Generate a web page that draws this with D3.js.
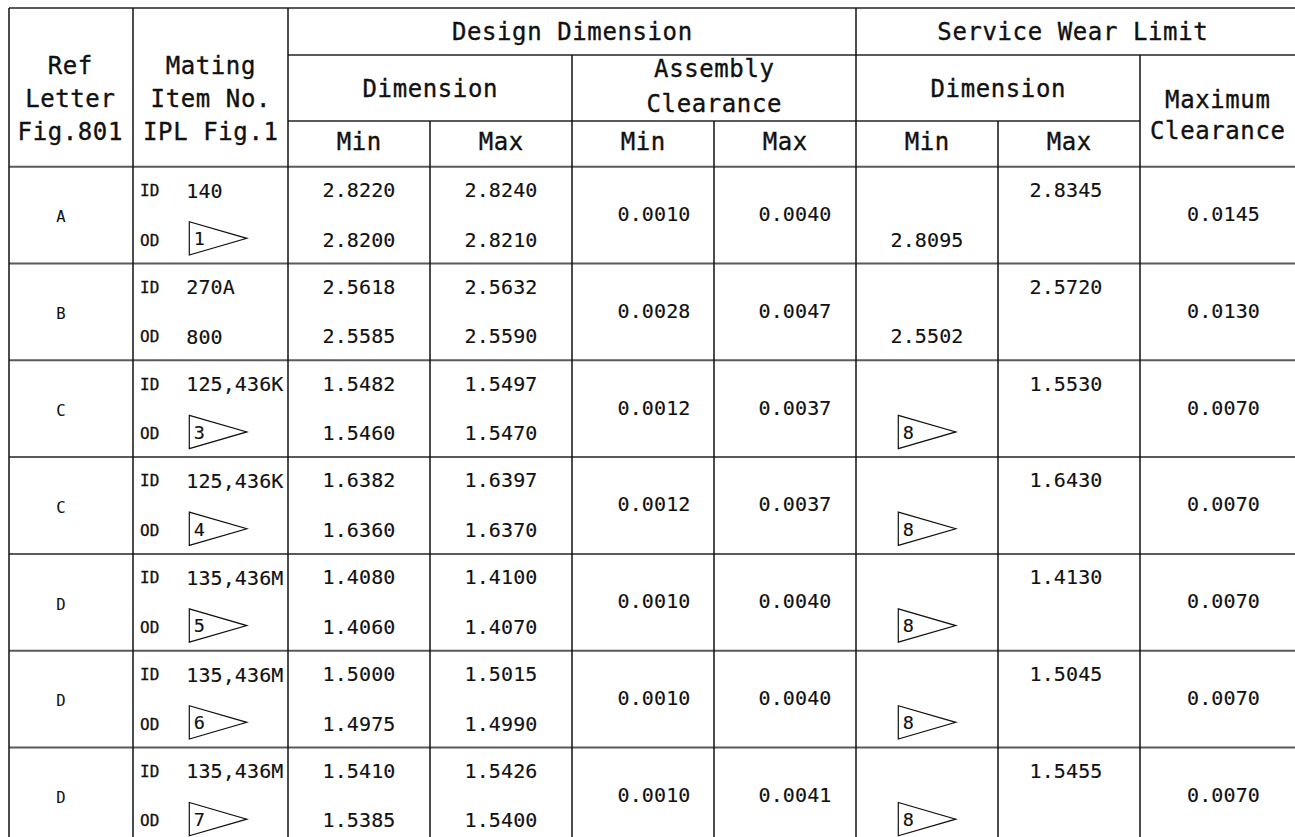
<!DOCTYPE html>
<html>
<head>
<meta charset="utf-8">
<script src="https://cdn.jsdelivr.net/npm/d3@7"></script>
<style>
  body { margin: 0; background: #fff; }
  svg { display: block; }
  text { font-family: "DejaVu Sans Mono", "Liberation Mono", monospace; fill: #111; stroke: #111; stroke-width: 0.35px; }
  .head { font-size: 24px; letter-spacing: 0.6px; }
  .val { font-size: 20px; letter-spacing: 0.1px; stroke-width: 0.15px; }
  .tag { font-size: 16px; stroke-width: 0.3px; }
  .ref { font-size: 15.5px; stroke-width: 0.1px; }
  .hline { stroke: #5a5a5a; stroke-width: 2; }
  .vline { stroke: #111; stroke-width: 1.5; }
  .flag { fill: none; stroke: #111; stroke-width: 1.2; }
</style>
</head>
<body>
<svg width="1295" height="837"></svg>
<script>
// table content
const refLetters = ["A", "B", "C", "C", "D", "D", "D"];
const idItems = ["140", "270A", "125,436K", "125,436K", "135,436M", "135,436M", "135,436M"];
const odItems = ["1", "800", "3", "4", "5", "6", "7"];
const odIsFlag = [true, false, true, true, true, true, true];
const designIdMin = [2.8220, 2.5618, 1.5482, 1.6382, 1.4080, 1.5000, 1.5410];
const designIdMax = [2.8240, 2.5632, 1.5497, 1.6397, 1.4100, 1.5015, 1.5426];
const designOdMin = [2.8200, 2.5585, 1.5460, 1.6360, 1.4060, 1.4975, 1.5385];
const designOdMax = [2.8210, 2.5590, 1.5470, 1.6370, 1.4070, 1.4990, 1.5400];
const clearMin = [0.0010, 0.0028, 0.0012, 0.0012, 0.0010, 0.0010, 0.0010];
const clearMax = [0.0040, 0.0047, 0.0037, 0.0037, 0.0040, 0.0040, 0.0041];
const wearMin = ["2.8095", "2.5502", "8", "8", "8", "8", "8"];
const wearMinIsFlag = [false, false, true, true, true, true, true];
const wearMax = [2.8345, 2.5720, 1.5530, 1.6430, 1.4130, 1.5045, 1.5455];
const maxClear = [0.0145, 0.0130, 0.0070, 0.0070, 0.0070, 0.0070, 0.0070];

const fmt = d3.format(".4f");

const svg = d3.select("svg");
const width = +svg.attr("width");

// grid layout
const colEdges = [9, 133, 288, 430, 572, 714, 856, 998, 1140, 1295];
const headTop = 8, head1 = 55, head2 = 121, headBottom = 166.7;
const rowH = 96.8;
const rowY = d3.scaleLinear().domain([0, refLetters.length]).range([headBottom, headBottom + refLetters.length * rowH]);
const colMid = i => (colEdges[i] + colEdges[i + 1]) / 2;

const grid = svg.append("g");
const texts = svg.append("g");

function hline(x1, x2, y) {
    grid.append("line").attr("class", "hline")
        .attr("x1", x1).attr("x2", x2).attr("y1", y).attr("y2", y);
}
function vline(x, y1, y2) {
    grid.append("line").attr("class", "vline")
        .attr("x1", x).attr("x2", x).attr("y1", y1).attr("y2", y2);
}

hline(colEdges[0], width, headTop);
hline(colEdges[2], width, head1);
hline(colEdges[2], colEdges[8], head2);
d3.range(refLetters.length + 1).forEach(i => hline(colEdges[0], width, rowY(i)));

const bottom = 837;
vline(colEdges[0], headTop, bottom);
vline(colEdges[1], headTop, bottom);
vline(colEdges[2], headTop, bottom);
vline(colEdges[3], head2, bottom);
vline(colEdges[4], head1, bottom);
vline(colEdges[5], head2, bottom);
vline(colEdges[6], headTop, bottom);
vline(colEdges[7], head2, bottom);
vline(colEdges[8], head1, bottom);

// header texts
function head(x, y, s) {
    texts.append("text").attr("class", "head")
        .attr("x", x + 0.3).attr("y", y).attr("text-anchor", "middle").text(s);
}
head(colMid(0) - 1, 74, "Ref");
head(colMid(0) - 1, 107, "Letter");
head(colMid(0) - 1, 140, "Fig.801");
head(colMid(1), 74, "Mating");
head(colMid(1), 107, "Item No.");
head(colMid(1), 140, "IPL Fig.1");
head((colEdges[2] + colEdges[6]) / 2, 40, "Design Dimension");
head((colEdges[6] + width) / 2 - 3, 40, "Service Wear Limit");
head((colEdges[2] + colEdges[4]) / 2, 97, "Dimension");
head((colEdges[4] + colEdges[6]) / 2, 77, "Assembly");
head((colEdges[4] + colEdges[6]) / 2, 112, "Clearance");
head((colEdges[6] + colEdges[8]) / 2, 97, "Dimension");
head(colMid(8), 108, "Maximum");
head(colMid(8), 139, "Clearance");
["Min", "Max", "Min", "Max", "Min", "Max"].forEach((s, i) => head(colMid(i + 2), 150, s));

// flag symbol: box edge with number, pointed to the right
function flag(x, top, label) {
    const h = 33.3, w = 57.5;
    texts.append("path").attr("class", "flag")
        .attr("d", `M${x},${top}L${x},${top + h}L${x + w},${top + h / 2}Z`);
    texts.append("text").attr("class", "val").style("font-size", "18.5px")
        .attr("x", x + 4.5).attr("y", top + h / 2 + 6.8).text(label);
}

function val(x, y, s, anchor) {
    texts.append("text").attr("class", "val")
        .attr("x", x).attr("y", y).attr("text-anchor", anchor || "middle").text(s);
}

const capVal = 7.3, capTag = 5.8;

refLetters.forEach((letter, i) => {
    const top = rowY(i);
    const idY = top + 23.5, odY = top + 73;

    texts.append("text").attr("class", "ref")
        .attr("x", 61).attr("y", top + 50 + 5.6).attr("text-anchor", "middle").text(letter);

    texts.append("text").attr("class", "tag").attr("x", 140).attr("y", idY + capTag).text("ID");
    texts.append("text").attr("class", "tag").attr("x", 140).attr("y", odY + capTag).text("OD");
    val(186.3, idY + capVal, idItems[i], "start");
    if (odIsFlag[i]) flag(189.3, top + 55, odItems[i]);
    else val(186.3, odY + capVal, odItems[i], "start");

    val(colMid(2), idY + capVal - 0.5, fmt(designIdMin[i]));
    val(colMid(3), idY + capVal - 0.5, fmt(designIdMax[i]));
    val(colMid(2), odY + capVal - 0.5, fmt(designOdMin[i]));
    val(colMid(3), odY + capVal - 0.5, fmt(designOdMax[i]));

    val(colMid(4) + 11, top + 47 + capVal, fmt(clearMin[i]));
    val(colMid(5) + 10, top + 47 + capVal, fmt(clearMax[i]));

    val(colMid(7) - 3, idY + capVal - 0.5, fmt(wearMax[i]));
    if (wearMinIsFlag[i]) flag(898.3, top + 55, wearMin[i]);
    else val(colMid(6), odY + capVal - 0.5, wearMin[i]);

    val(colMid(8) + 6, top + 47 + capVal, fmt(maxClear[i]));
});
</script>
</body>
</html>
